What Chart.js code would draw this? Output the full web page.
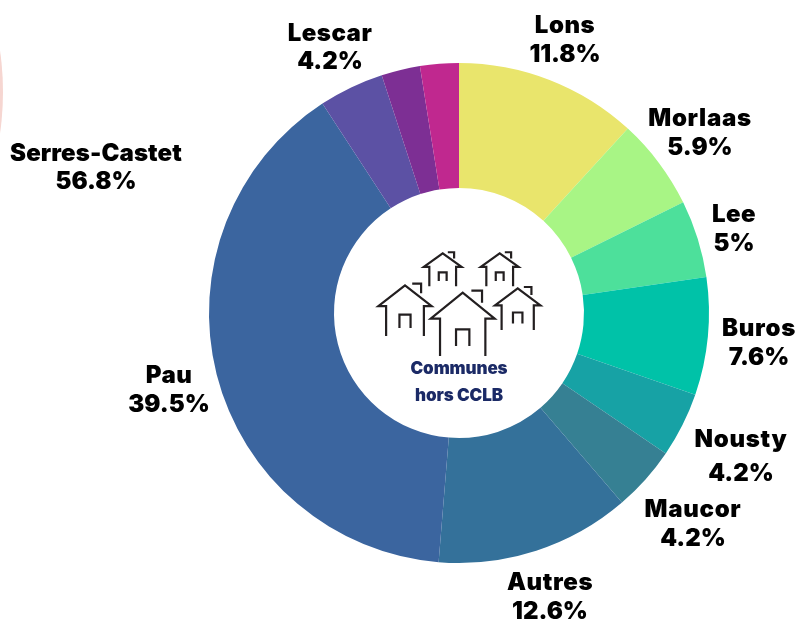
<!DOCTYPE html>
<html><head><meta charset="utf-8">
<style>html,body{margin:0;padding:0;background:#fff;overflow:hidden}canvas{display:block}</style>
<script src="https://cdn.jsdelivr.net/npm/chart.js@4"></script></head>
<body><canvas id="c" width="801" height="619"></canvas>
<script>
const categories=["Lons","Morlaas","Lee","Buros","Nousty","Maucor","Autres","Pau","Lescar","Violet","Magenta"];
const values=[11.8,5.9,5,7.6,4.2,4.2,12.6,39.5,4.2,2.5,2.5];
const colors=["#e9e56c","#a8f585","#4de09b","#00c2a8","#17a2a5","#368093","#34719a","#3b659f","#5c51a4","#7d2f94","#c0288f"];
const labelTexts=[["Lons","11.8%"],["Morlaas","5.9%"],["Lee","5%"],["Buros","7.6%"],["Nousty","4.2%"],["Maucor","4.2%"],["Autres","12.6%"],["Pau","39.5%"],["Lescar","4.2%"],["Serres-Castet","56.8%"]];
const labelPos=[[565,26,55],[700,119,148],[734,215,244],[759,329,358],[741,440,474],[693,510,539],[550,583,612],[169,376,405],[330,34,62],[96,154,182]];
const nameSpacing=[0.5,0.7,0.5,0.7,0.7,0.7,0.6,0.5,0.5,0.1];
const centerLines=[["Communes",369],["hors CCLB",396]];
const icon=[[442.7,253.3,.59,.52],[499.7,253.3,.59,.52],[405,285.3,.833,.8],[517.7,288.3,.71,.66],[462.7,292.7,1,1]];
const u=1/3;
function house(ctx,x,y,sx,sy){
  const X=v=>x+v*u*sx, Y=v=>y+v*u*sy;
  ctx.beginPath();
  ctx.moveTo(X(-68),Y(190));ctx.lineTo(X(-68),Y(78));ctx.lineTo(X(-96),Y(78));ctx.lineTo(X(0),Y(0));ctx.lineTo(X(96),Y(78));ctx.lineTo(X(68),Y(78));ctx.lineTo(X(68),Y(190));
  ctx.moveTo(X(-20),Y(160));ctx.lineTo(X(-20),Y(110));ctx.lineTo(X(20),Y(110));ctx.lineTo(X(20),Y(160));
  ctx.moveTo(X(26),Y(-6));ctx.lineTo(X(58),Y(-6));ctx.lineTo(X(58),Y(30));
  ctx.stroke();
}
const deco={id:'deco',
  beforeDraw(ch){const c=ch.ctx;c.save();c.fillStyle='#f6d6d1';c.beginPath();c.arc(-287,92,290,0,Math.PI*2);c.fill();c.restore();},
  afterDraw(ch){const c=ch.ctx;c.save();
    c.textAlign='center';c.textBaseline='middle';c.fillStyle='#000';
    c.font='900 24px Inter';
    labelTexts.forEach((t,i)=>{
      c.letterSpacing=nameSpacing[i]+'px';c.fillText(t[0],labelPos[i][0],labelPos[i][1]);
      c.letterSpacing='0px';c.fillText(t[1],labelPos[i][0],labelPos[i][2]);});
    c.fillStyle='#1b2a66';c.font='900 17px Inter';c.letterSpacing='-0.1px';
    centerLines.forEach(l=>c.fillText(l[0],459,l[1]));
    c.strokeStyle='#231f20';c.lineWidth=2.2;c.lineJoin='miter';
    icon.forEach(h=>house(c,h[0],h[1],h[2],h[3]));
    c.restore();}
};
new Chart(document.getElementById('c'),{
  type:'doughnut',
  data:{labels:categories,datasets:[{data:values,backgroundColor:colors,borderWidth:0}]},
  options:{responsive:false,animation:false,cutout:'50%',
    layout:{padding:{left:209,right:92,top:63,bottom:56}},
    plugins:{legend:{display:false},tooltip:{enabled:false}}},
  plugins:[deco]
});
</script></body></html>
